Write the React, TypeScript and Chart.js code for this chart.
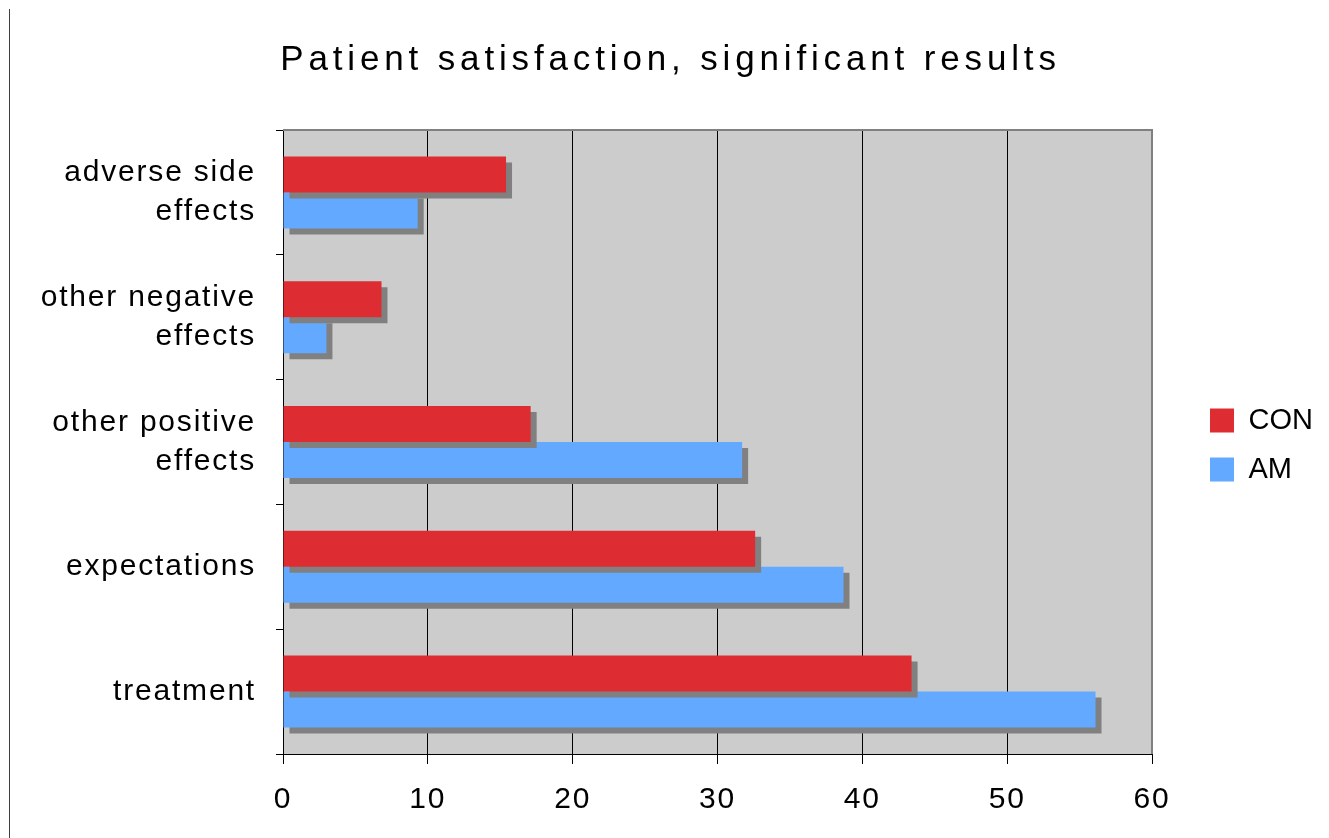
import React, { useEffect, useRef } from "react";
import { Chart, registerables } from "chart.js";

Chart.register(...registerables);

const titleText = "Patient satisfaction, significant results";
const categories: (string | string[])[] = [
  ["adverse side", "effects"],
  ["other negative", "effects"],
  ["other positive", "effects"],
  "expectations",
  "treatment",
];
const seriesNames = ["CON", "AM"];
const conValues = [15.4, 6.8, 17.1, 32.6, 43.4];
const amValues = [9.3, 3.0, 31.7, 38.7, 56.1];
const xMin = 0;
const xMax = 60;
const xStep = 10;

const FONT = "'Liberation Sans', Arial, Helvetica, sans-serif";

export default function App() {
  const canvasRef = useRef<HTMLCanvasElement | null>(null);

  useEffect(() => {
    const canvas = canvasRef.current;
    if (!canvas) return;

    const spacing = (chart: any) => {
      chart.ctx.letterSpacing = "1.8px";
    };

    const customPlugin = {
      id: "custom",
      beforeInit(chart: any) {
        spacing(chart);
      },
      afterInit(chart: any) {
        const lg = chart.legend;
        if (lg) {
          const fit = lg.fit.bind(lg);
          lg.fit = function () {
            fit();
            lg.width = 177;
          };
          const draw = lg.draw.bind(lg);
          lg.draw = function () {
            const c = chart.ctx;
            const prev = c.letterSpacing;
            c.letterSpacing = "0px";
            draw();
            c.letterSpacing = prev;
          };
        }
        const tb = chart.titleBlock;
        if (tb) {
          const tdraw = tb.draw.bind(tb);
          tb.draw = function () {
            const c = chart.ctx;
            const prev = c.letterSpacing;
            c.letterSpacing = "4.85px";
            tdraw();
            c.letterSpacing = prev;
          };
        }
      },
      beforeUpdate(chart: any) {
        spacing(chart);
      },
      beforeLayout(chart: any) {
        spacing(chart);
      },
      afterLayout(chart: any) {
        if (chart.legend) {
          chart.legend.left += 38;
          chart.legend.right += 38;
          chart.legend.top += 26;
          chart.legend.bottom += 26;
        }
      },
      beforeDraw(chart: any) {
        spacing(chart);
        const { ctx, chartArea } = chart;
        ctx.save();
        ctx.fillStyle = "#CCCCCC";
        ctx.fillRect(
          chartArea.left,
          chartArea.top,
          chartArea.right - chartArea.left,
          chartArea.bottom - chartArea.top
        );
        ctx.restore();
      },
      beforeDatasetsDraw(chart: any) {
        const { ctx, chartArea } = chart;
        ctx.save();
        ctx.strokeStyle = "#808080";
        ctx.lineWidth = 2;
        ctx.beginPath();
        ctx.moveTo(chartArea.left, chartArea.top);
        ctx.lineTo(chartArea.right, chartArea.top);
        ctx.lineTo(chartArea.right, chartArea.bottom);
        ctx.stroke();
        ctx.restore();
        ctx.save();
        ctx.shadowColor = "#808080";
        ctx.shadowOffsetX = 6;
        ctx.shadowOffsetY = 6;
        ctx.shadowBlur = 0;
      },
      afterDatasetsDraw(chart: any) {
        chart.ctx.restore();
      },
    };

    const chart = new Chart(canvas, {
      type: "bar",
      data: {
        labels: categories,
        datasets: [
          {
            label: seriesNames[0],
            data: conValues,
            backgroundColor: "#DE2C33",
            borderWidth: 0,
          },
          {
            label: seriesNames[1],
            data: amValues,
            backgroundColor: "#63A9FF",
            borderWidth: 0,
          },
        ],
      },
      options: {
        indexAxis: "y",
        animation: false,
        responsive: true,
        maintainAspectRatio: false,
        datasets: {
          bar: {
            categoryPercentage: 0.577,
            barPercentage: 1,
          },
        },
        layout: {
          padding: { left: 12, right: 0, top: 0, bottom: 0 },
        },
        scales: {
          x: {
            type: "linear",
            min: xMin,
            max: xMax,
            ticks: {
              stepSize: xStep,
              color: "#000",
              padding: 18,
              font: { family: FONT, size: 30 },
            },
            grid: {
              color: "#000",
              lineWidth: 1,
              drawTicks: true,
              tickLength: 10,
              tickColor: "#000",
            },
            border: { color: "#000", width: 1 },
            afterFit(scale: any) {
              scale.height = 84;
            },
          },
          y: {
            type: "category",
            ticks: {
              color: "#000",
              padding: 20,
              font: { family: FONT, size: 30, lineHeight: 1.29 },
            },
            grid: {
              drawOnChartArea: false,
              drawTicks: true,
              tickLength: 7,
              tickColor: "#000",
              color: "#000",
              offset: true,
            },
            border: { color: "#000", width: 1 },
            afterFit(scale: any) {
              scale.width = 271;
            },
          },
        },
        plugins: {
          title: {
            display: true,
            text: titleText,
            color: "#000",
            font: { family: FONT, size: 35, weight: "normal", lineHeight: 1.2 },
            padding: { top: 39, bottom: 49 },
          },
          legend: {
            display: true,
            position: "right",
            align: "center",
            labels: {
              color: "#000",
              boxWidth: 24,
              boxHeight: 24,
              padding: 20,
              font: { family: FONT, size: 29 },
            },
          },
          tooltip: { enabled: false },
        },
      },
      plugins: [customPlugin],
    });

    return () => {
      chart.destroy();
    };
  }, []);

  return (
    <div
      style={{
        position: "absolute",
        left: 0,
        top: 0,
        width: 1329,
        height: 838,
        background: "#fff",
      }}
    >
      <canvas ref={canvasRef} />
      <div
        style={{
          position: "absolute",
          left: 9,
          top: 9,
          width: 1,
          height: 829,
          background: "#404040",
        }}
      />
    </div>
  );
}
